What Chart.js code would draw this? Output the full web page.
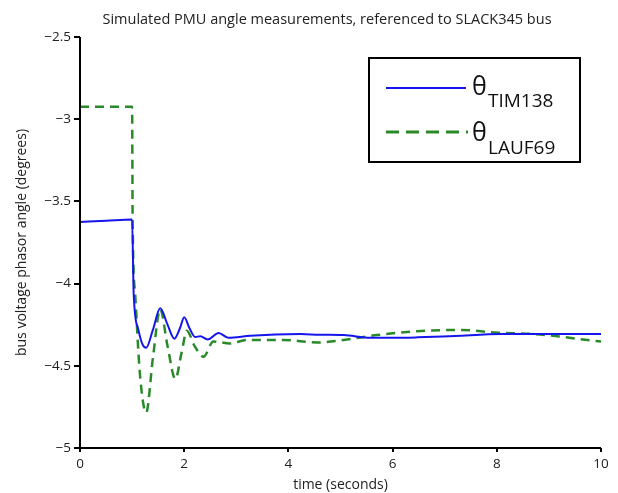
<!DOCTYPE html>
<html>
<head>
<meta charset="utf-8">
<script src="https://cdn.jsdelivr.net/npm/chart.js@4"></script>
<style>
  html, body { margin: 0; padding: 0; background: #fff; }
  #wrap { width: 618px; height: 493px; }
</style>
</head>
<body>
<div id="wrap"><canvas id="pmuChart" width="618" height="493"></canvas></div>
<script>
// data
const chartTitle = 'Simulated PMU angle measurements, referenced to SLACK345 bus';
const xTicks = [0, 2, 4, 6, 8, 10];
const yTicks = [-5, -4.5, -4, -3.5, -3, -2.5];

// theta TIM138 (solid blue)
const timTime = [0, 0.5, 1.0, 1.03, 1.12, 1.2, 1.27, 1.4, 1.54, 1.68, 1.81, 1.92, 2.0, 2.1, 2.21, 2.31, 2.45, 2.66, 2.85, 3.27, 4.23, 4.6, 5.06, 5.58, 6.0, 6.47, 7.2, 8.08, 9.0, 10];
const timAngle = [-3.625, -3.618, -3.61, -4.06, -4.28, -4.37, -4.39, -4.28, -4.15, -4.25, -4.335, -4.27, -4.205, -4.27, -4.325, -4.32, -4.34, -4.30, -4.33, -4.317, -4.307, -4.311, -4.313, -4.33, -4.33, -4.327, -4.318, -4.307, -4.306, -4.307];

// theta LAUF69 (dashed green)
const laufTime = [0, 1.0, 1.01, 1.06, 1.15, 1.27, 1.4, 1.54, 1.68, 1.83, 1.95, 2.05, 2.2, 2.37, 2.56, 2.88, 3.2, 3.9, 4.55, 5.06, 5.7, 6.47, 7.31, 7.95, 8.71, 9.23, 9.87, 10];
const laufAngle = [-2.925, -2.925, -3.6, -4.07, -4.55, -4.785, -4.45, -4.155, -4.38, -4.58, -4.42, -4.287, -4.38, -4.445, -4.352, -4.364, -4.343, -4.343, -4.358, -4.343, -4.313, -4.29, -4.282, -4.297, -4.307, -4.323, -4.348, -4.352];

const FONT = '"Open Sans", "DejaVu Sans", sans-serif';
const minusSign = v => String(v).replace('-', '\u2212');

// title, axis lines and the legend are drawn here (legend needs subscripts)
const decorPlugin = {
    id: 'decor',
    afterDraw(chart) {
        const c = chart.ctx;
        const area = chart.chartArea;
        c.save();
        // title
        c.fillStyle = '#222';
        c.font = '14.5px ' + FONT;
        c.textAlign = 'center';
        c.textBaseline = 'middle';
        c.fillText(chartTitle, 327, 20);

        // axis lines
        c.strokeStyle = '#000';
        c.lineWidth = 2;
        c.beginPath();
        c.moveTo(area.left, area.top);
        c.lineTo(area.left, area.bottom);
        c.lineTo(area.right, area.bottom);
        c.stroke();

        // legend box
        const bx = 369, by = 58, bw = 211, bh = 104;
        c.fillStyle = '#fff';
        c.fillRect(bx, by, bw, bh);
        c.lineWidth = 2;
        c.strokeRect(bx, by, bw, bh);

        c.lineWidth = 2.2;
        c.strokeStyle = '#1515ee';
        c.beginPath();
        c.moveTo(386, 88);
        c.lineTo(466, 88);
        c.stroke();

        c.strokeStyle = '#2a8a2a';
        c.lineWidth = 2.8;
        c.setLineDash([13, 7]);
        c.beginPath();
        c.moveTo(386, 132);
        c.lineTo(468, 132);
        c.stroke();
        c.setLineDash([]);

        c.fillStyle = '#111';
        c.textAlign = 'left';
        c.textBaseline = 'alphabetic';
        c.font = '25px ' + FONT;
        c.fillText('\u03b8', 472, 95);
        c.fillText('\u03b8', 472, 141);
        c.font = '19px ' + FONT;
        c.fillText('TIM138', 488, 107);
        c.fillText('LAUF69', 488, 154);
        c.restore();
    }
};

const ctx = document.getElementById('pmuChart').getContext('2d');

new Chart(ctx, {
    type: 'line',
    data: {
        datasets: [
            {
                label: '\u03b8 TIM138',
                data: timTime.map((t, i) => ({ x: t, y: timAngle[i] })),
                borderColor: '#1515ee',
                borderWidth: 2,
                pointRadius: 0,
                cubicInterpolationMode: 'monotone',
                fill: false
            },
            {
                label: '\u03b8 LAUF69',
                data: laufTime.map((t, i) => ({ x: t, y: laufAngle[i] })),
                borderColor: '#2a8a2a',
                borderWidth: 2.5,
                borderDash: [9, 6],
                pointRadius: 0,
                cubicInterpolationMode: 'monotone',
                fill: false
            }
        ]
    },
    options: {
        responsive: false,
        animation: false,
        layout: { padding: { top: 37, right: 17, left: 0, bottom: 0 } },
        plugins: {
            legend: { display: false },
            title: { display: false },
            tooltip: { enabled: false }
        },
        scales: {
            x: {
                type: 'linear',
                min: 0,
                max: 10,
                afterBuildTicks: s => { s.ticks = xTicks.map(v => ({ value: v })); },
                afterFit: s => { s.height = 45; },
                border: { display: false },
                grid: { display: true, drawOnChartArea: false, drawTicks: true, tickLength: 4, color: '#000', lineWidth: 2 },
                ticks: {
                    padding: 4,
                    color: '#222',
                    font: { family: FONT, size: 13.5 },
                    maxRotation: 0,
                    callback: v => minusSign(v)
                },
                title: {
                    display: true,
                    text: 'time (seconds)',
                    color: '#222',
                    font: { family: FONT, size: 14 },
                    padding: { top: 0, bottom: 0 }
                }
            },
            y: {
                min: -5,
                max: -2.5,
                afterBuildTicks: s => { s.ticks = yTicks.map(v => ({ value: v })); },
                afterFit: s => { s.width = 80; },
                border: { display: false },
                grid: { display: true, drawOnChartArea: false, drawTicks: true, tickLength: 6, color: '#000', lineWidth: 2 },
                ticks: {
                    padding: 3,
                    color: '#222',
                    font: { family: FONT, size: 13.5 },
                    callback: v => minusSign(v)
                },
                title: {
                    display: true,
                    text: 'bus voltage phasor angle (degrees)',
                    color: '#222',
                    font: { family: FONT, size: 14 },
                    padding: { top: 14, bottom: 0 }
                }
            }
        }
    },
    plugins: [decorPlugin]
});
</script>
</body>
</html>
